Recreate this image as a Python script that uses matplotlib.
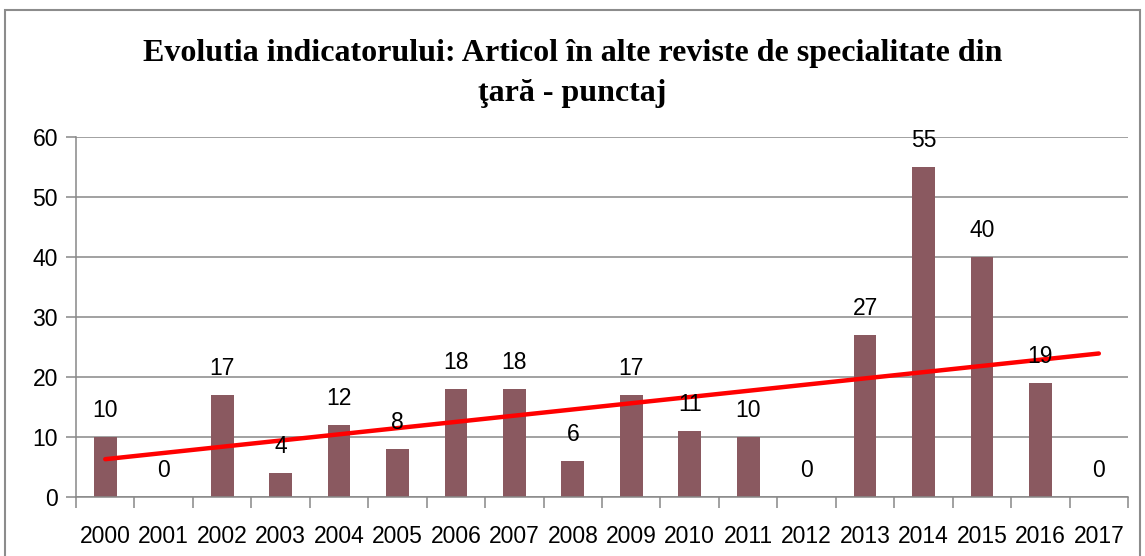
import numpy as np
import matplotlib
matplotlib.use("Agg")
import matplotlib.pyplot as plt
from matplotlib.patches import Rectangle

# data
years = ['2000', '2001', '2002', '2003', '2004', '2005', '2006', '2007', '2008',
         '2009', '2010', '2011', '2012', '2013', '2014', '2015', '2016', '2017']
scores = [10, 0, 17, 4, 12, 8, 18, 18, 6, 17, 11, 10, 0, 27, 55, 40, 19, 0]

bar_color = '#8A5960'
grid_color = '#888888'

fig = plt.figure(figsize=(11.45, 5.56), dpi=100)
ax = fig.add_axes([0.0664, 0.1061, 0.9188, 0.6475])

x = np.arange(len(years))
ax.bar(x, scores, width=0.39, color=bar_color, zorder=2)

# linear trend line
coef = np.polyfit(x, scores, 1)
ax.plot(x, np.polyval(coef, x), color='#FF0000', linewidth=3.2,
        solid_capstyle='round', zorder=3)

# value labels
for xi, v in zip(x, scores):
    ax.annotate(str(v), (xi, v), xytext=(0, 11), textcoords='offset points',
                ha='center', va='bottom', fontsize=16.5,
                family='Liberation Sans', color='#000000', zorder=4)

ax.set_xlim(-0.5, len(years) - 0.5)
ax.set_ylim(0, 60)
ax.set_yticks(range(0, 61, 10))
ax.yaxis.grid(True, color=grid_color, linewidth=1.1, zorder=0)
ax.set_axisbelow(True)

ax.set_xticks(x)
ax.set_xticklabels(years)
ax.set_xticks(np.arange(-0.5, len(years), 1), minor=True)
ax.tick_params(axis='x', which='major', length=0, pad=20)
ax.tick_params(axis='x', which='minor', length=8, color=grid_color, width=1.1)
ax.tick_params(axis='y', length=7, color=grid_color, width=1.1, pad=6)

for lab in ax.get_xticklabels() + ax.get_yticklabels():
    lab.set_fontsize(16.5)
    lab.set_family('Liberation Sans')

for side in ['top', 'right']:
    ax.spines[side].set_visible(False)
for side in ['left', 'bottom']:
    ax.spines[side].set_color(grid_color)
    ax.spines[side].set_linewidth(1.1)

fig.text(0.5, 1 - 53 / 556, 'Evolutia indicatorului: Articol în alte reviste de specialitate din',
         ha='center', va='center', fontsize=23, fontweight='bold', family='Liberation Serif')
fig.text(0.5, 1 - 93 / 556, 'ţară - punctaj',
         ha='center', va='center', fontsize=23, fontweight='bold', family='Liberation Serif')

# outer chart frame
fig.patches.append(Rectangle((5 / 1145, -0.05), 1135 / 1145, 1.05 - 10 / 556,
                             transform=fig.transFigure, fill=False,
                             edgecolor='#8C8C8C', linewidth=1.5))

fig.savefig('out.png', dpi=100)
